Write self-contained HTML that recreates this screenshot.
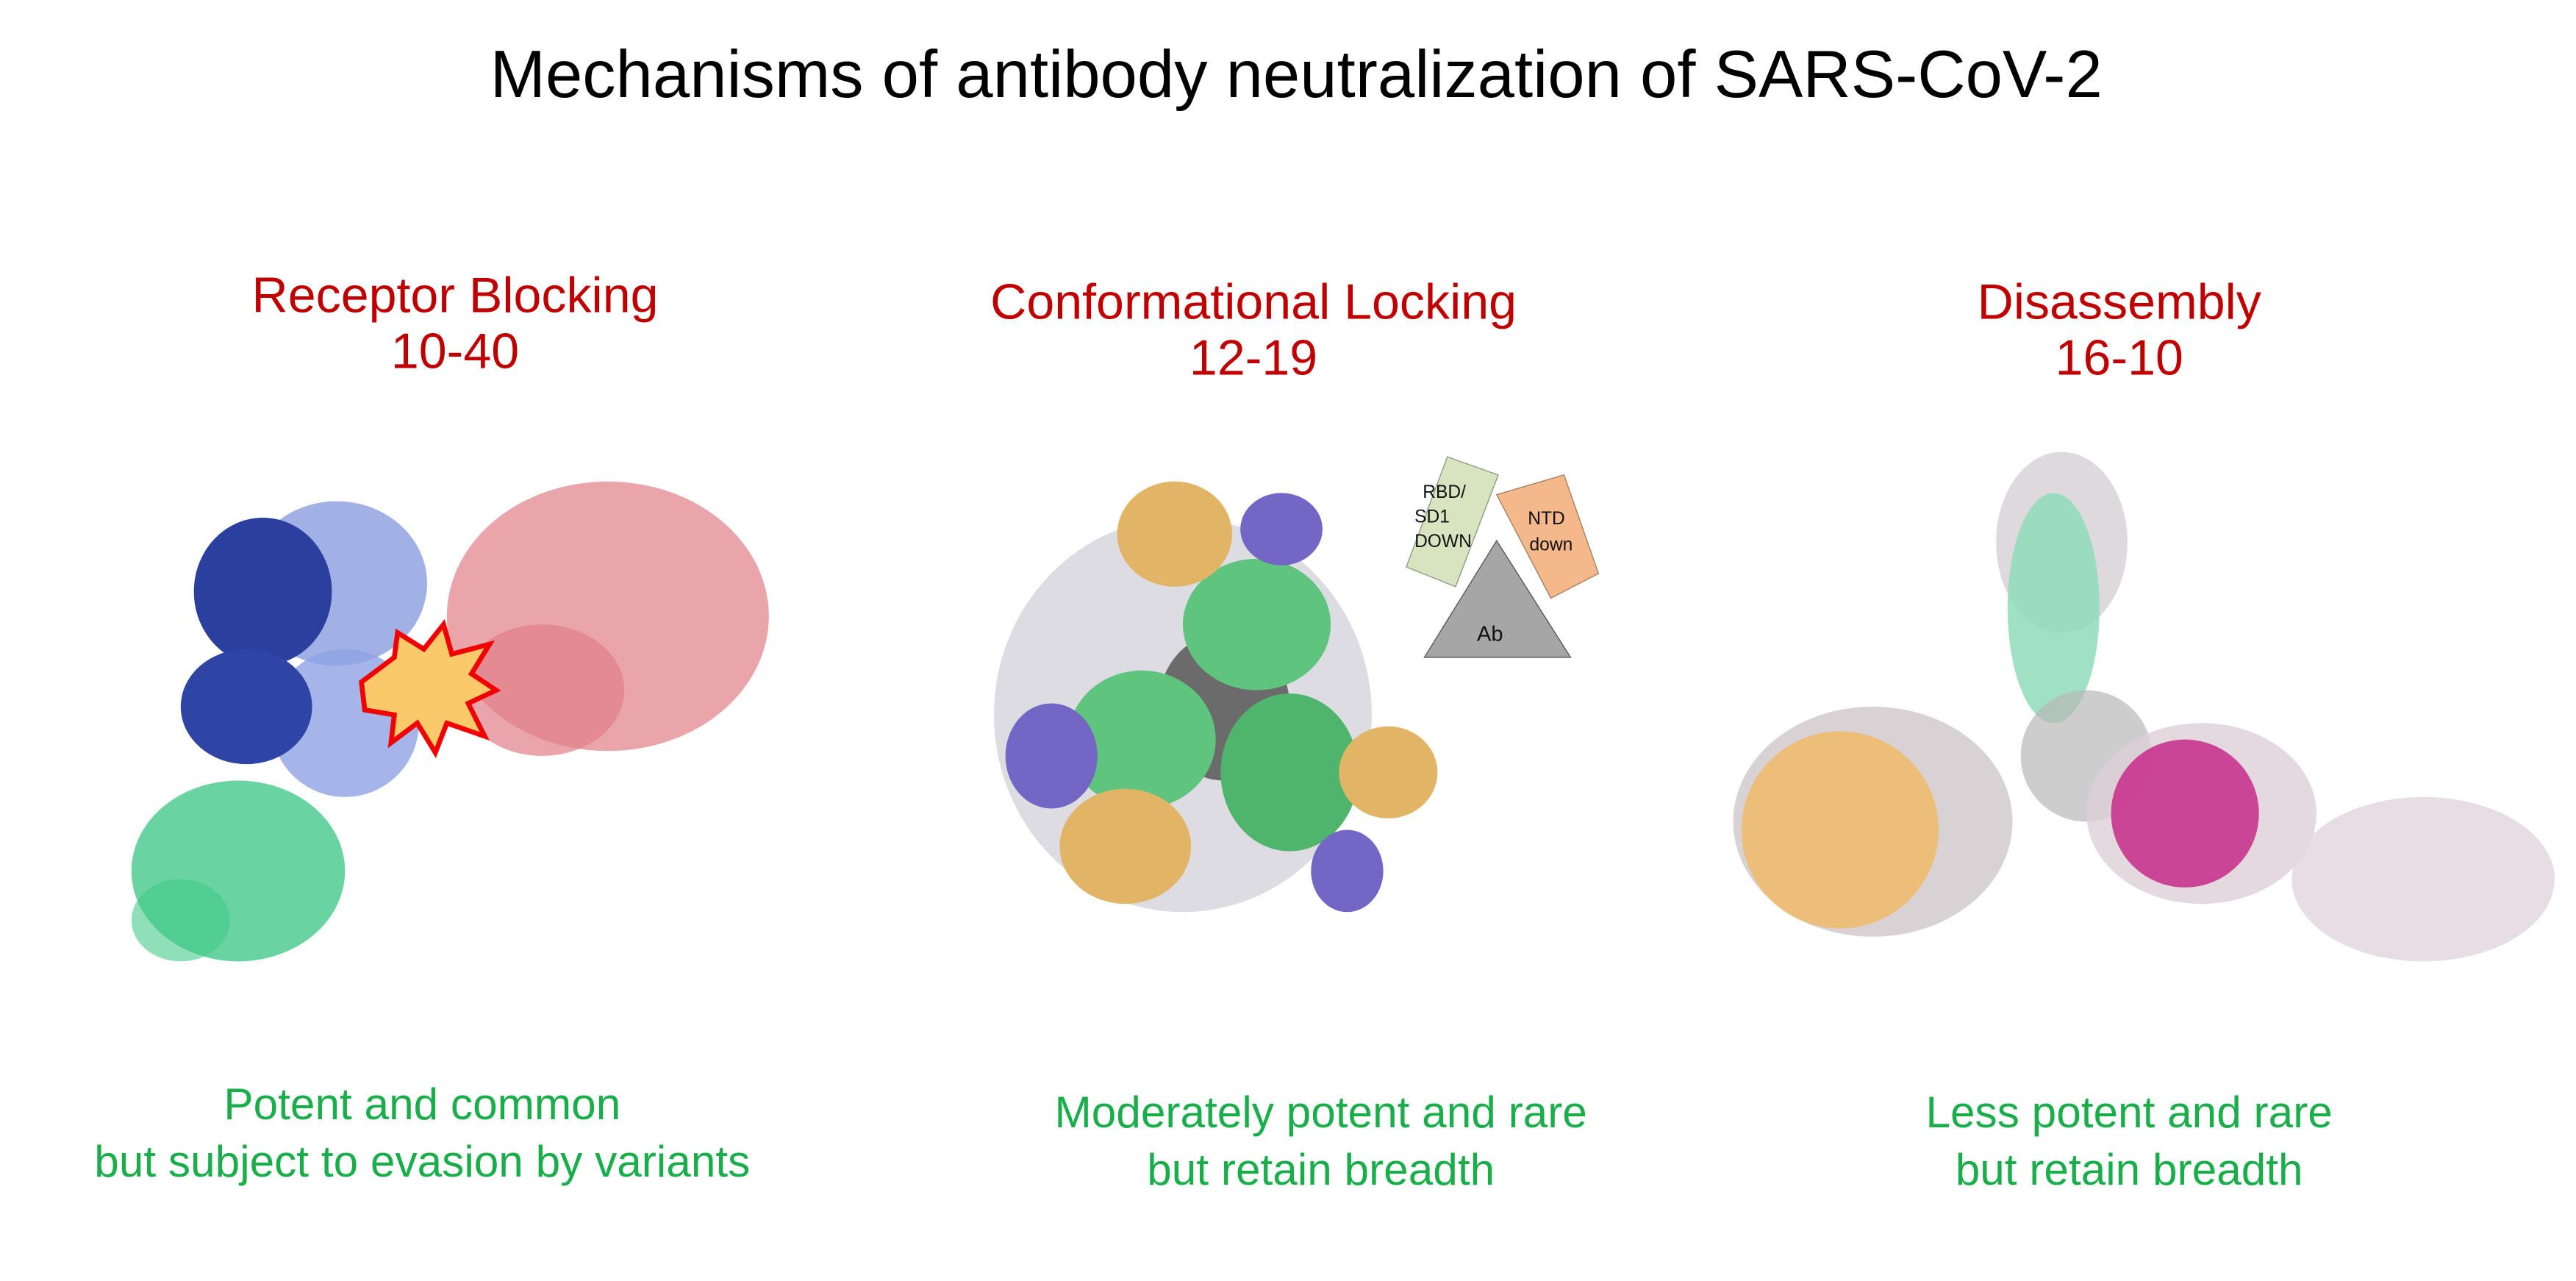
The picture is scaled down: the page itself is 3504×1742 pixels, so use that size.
<!DOCTYPE html>
<html><head><meta charset="utf-8"><style>
html,body{margin:0;padding:0;background:#fff;width:3504px;height:1742px;overflow:hidden}
svg{display:block}
text{font-family:"Liberation Sans",sans-serif}
</style></head><body>
<svg width="3504" height="1742" viewBox="0 0 1568 779.5">
<text x="789" y="59" font-size="40.5" text-anchor="middle" fill="#000">Mechanisms of antibody neutralization of SARS-CoV-2</text>

<g fill="#c00000" font-size="30.5" text-anchor="middle">
<text x="277" y="190">Receptor Blocking</text>
<text x="277" y="224">10-40</text>
<text x="763" y="194">Conformational Locking</text>
<text x="763" y="228">12-19</text>
<text x="1290" y="194">Disassembly</text>
<text x="1290" y="228">16-10</text>
</g>

<g fill="#1aae4a" font-size="27" text-anchor="middle">
<text x="257" y="681">Potent and common</text>
<text x="257" y="716">but subject to evasion by variants</text>
<text x="804" y="686">Moderately potent and rare</text>
<text x="804" y="721">but retain breadth</text>
<text x="1296" y="686">Less potent and rare</text>
<text x="1296" y="721">but retain breadth</text>
</g>

<g>
<ellipse cx="370" cy="375" rx="98" ry="82" fill="#e58f95" opacity="0.8"/>
<ellipse cx="330" cy="420" rx="50" ry="40" fill="#e07f87" opacity="0.7"/>
<ellipse cx="205" cy="355" rx="55" ry="50" fill="#8a9ee0" opacity="0.8"/>
<ellipse cx="210" cy="440" rx="45" ry="45" fill="#8fa3e3" opacity="0.8"/>
<ellipse cx="160" cy="360" rx="42" ry="45" fill="#2a3f9e"/>
<ellipse cx="150" cy="430" rx="40" ry="35" fill="#2e45a6"/>
<ellipse cx="145" cy="530" rx="65" ry="55" fill="#44c98a" opacity="0.8"/>
<ellipse cx="110" cy="560" rx="30" ry="25" fill="#44c98a" opacity="0.6"/>
<polygon points="220,415 240,400 242,385 258,395 270,380 275,398 298,392 287,410 302,420 285,428 295,448 272,440 265,458 254,440 238,452 240,435 222,432" fill="#f9c96a" stroke="#f20000" stroke-width="3"/>
</g>

<g>
<ellipse cx="720" cy="435" rx="115" ry="120" fill="#dcdce2"/>
<ellipse cx="745" cy="430" rx="40" ry="45" fill="#6b6b6b"/>
<ellipse cx="765" cy="380" rx="45" ry="40" fill="#5fc47e"/>
<ellipse cx="695" cy="450" rx="45" ry="42" fill="#5fc47e"/>
<ellipse cx="785" cy="470" rx="42" ry="48" fill="#4fb56c"/>
<ellipse cx="715" cy="325" rx="35" ry="32" fill="#e2b466"/>
<ellipse cx="780" cy="322" rx="25" ry="22" fill="#7466c4"/>
<ellipse cx="640" cy="460" rx="28" ry="32" fill="#7466c4"/>
<ellipse cx="685" cy="515" rx="40" ry="35" fill="#e2b466"/>
<ellipse cx="845" cy="470" rx="30" ry="28" fill="#e2b466"/>
<ellipse cx="820" cy="530" rx="22" ry="25" fill="#7466c4"/>
</g>
<g>
<polygon points="881,278 912,289 886,357 856,345" fill="#d8e4c0" stroke="#8a9a80" stroke-width="0.6"/>
<polygon points="911,301 952,289 973,349 944,364" fill="#f5b88a" stroke="#a08060" stroke-width="0.6"/>
<polygon points="911,329 867,400 956,400" fill="#a6a6a6" stroke="#555" stroke-width="0.6"/>
<g font-size="11" fill="#111">
<text x="866" y="303">RBD/</text><text x="861" y="318">SD1</text><text x="861" y="333">DOWN</text>
<text x="930" y="319">NTD</text><text x="931" y="335">down</text>
<text x="899" y="390" font-size="13">Ab</text>
</g>
</g>

<g>
<ellipse cx="1255" cy="330" rx="40" ry="55" fill="#d5cfd3" opacity="0.8"/>
<ellipse cx="1250" cy="370" rx="28" ry="70" fill="#8fdcbc" opacity="0.85"/>
<ellipse cx="1270" cy="460" rx="40" ry="40" fill="#b8b8b8" opacity="0.7"/>
<ellipse cx="1140" cy="500" rx="85" ry="70" fill="#cfc7cb" opacity="0.8"/>
<ellipse cx="1120" cy="505" rx="60" ry="60" fill="#f0bb6a" opacity="0.85"/>
<ellipse cx="1340" cy="495" rx="70" ry="55" fill="#dccfd6" opacity="0.8"/>
<ellipse cx="1330" cy="495" rx="45" ry="45" fill="#c72a8a" opacity="0.85"/>
<ellipse cx="1475" cy="535" rx="80" ry="50" fill="#e3d8de" opacity="0.85"/>
</g>
</svg>
</body></html>
